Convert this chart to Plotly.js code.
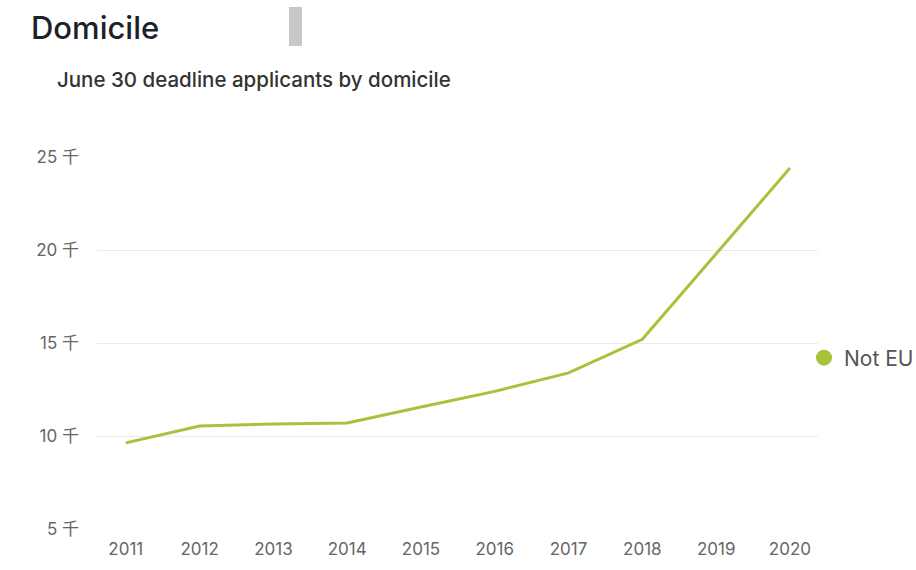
<!DOCTYPE html>
<html>
<head>
<meta charset="utf-8">
<script src="https://cdn.plot.ly/plotly-3.0.1.min.js"></script>
<style>html,body{margin:0;padding:0;background:#fff;}#chart{width:916px;height:570px;}</style>
</head>
<body>
<div id="chart"></div>
<script>
const years = ["2011","2012","2013","2014","2015","2016","2017","2018","2019","2020"];
const notEU = [9630, 10540, 10650, 10700, 11560, 12400, 13390, 15200, 19800, 24410];
const yTickVals = [5000, 10000, 15000, 20000, 25000];
const yTickText = ["5 千", "10 千", "15 千", "20 千", "25 千"];
const seriesName = "Not EU";
const chartTitle = "Domicile";
const subTitle = "June 30 deadline applicants by domicile";

const FONT = "Inter, 'Noto Sans', 'Noto Sans CJK SC', sans-serif";
const GREEN = "#a5c33b";

const traces = [
  {
    x: years, y: notEU, type: "scatter", mode: "lines",
    line: {color: GREEN, width: 3}, showlegend: false, hoverinfo: "skip",
    cliponaxis: false
  },
  {
    x: [null], y: [null], type: "scatter", mode: "markers",
    name: seriesName, marker: {color: GREEN, size: 18}, showlegend: true
  }
];

const layout = {
  width: 916, height: 570,
  margin: {l: 97, r: 98, t: 157, b: 41, autoexpand: false},
  paper_bgcolor: "#fff", plot_bgcolor: "#fff",
  font: {family: FONT, color: "#666"},
  title: {
    text: chartTitle, xref: "container", yref: "container",
    x: 31/916, xanchor: "left", y: 1 - 28/570, yanchor: "middle",
    font: {family: FONT, size: 31, color: "#1d2129", weight: 500}
  },
  xaxis: {
    type: "category", range: [-0.39, 9.38],
    showgrid: false, zeroline: false, showline: false,
    ticks: "", tickfont: {size: 17, color: "#666"},
    ticklabelstandoff: 8
  },
  yaxis: {
    range: [5000, 25000], tickvals: yTickVals, ticktext: yTickText,
    showgrid: true, gridcolor: "#ebebeb", gridwidth: 1,
    zeroline: false, showline: false, ticks: "",
    tickfont: {size: 17, color: "#666"}, ticklabelstandoff: 17
  },
  legend: {
    xref: "container", yref: "container",
    x: 804/916, xanchor: "left", y: 1 - 358/570, yanchor: "middle",
    font: {size: 21, color: "#555"}, bgcolor: "rgba(0,0,0,0)",
    itemwidth: 30
  },
  annotations: [
    {
      text: subTitle, xref: "paper", yref: "paper",
      x: (55-97)/721, xanchor: "left", y: (529-80)/372, yanchor: "middle",
      showarrow: false, font: {family: FONT, size: 20.5, color: "#333", weight: 500}
    }
  ],
  shapes: [
    {
      type: "rect", xref: "paper", yref: "paper",
      x0: (289-97)/721, x1: (302-97)/721, y0: (529-46)/372, y1: (529-7)/372,
      fillcolor: "#c8c8c8", line: {width: 0}
    }
  ],
  showlegend: true
};

Plotly.newPlot("chart", traces, layout, {displayModeBar: false, staticPlot: true});
</script>
</body>
</html>
